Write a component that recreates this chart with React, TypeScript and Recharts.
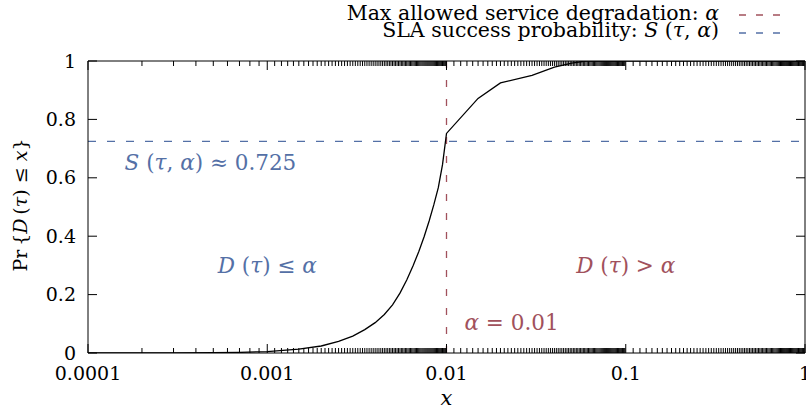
import React from "react"
import { LineChart, Line, XAxis, YAxis, ReferenceLine, ReferenceDot } from "recharts"

// measured CDF of service degradation D(tau)
const xs = [0.0001, 0.0003, 0.0005, 0.0007, 0.001, 0.0015, 0.002, 0.0025, 0.003, 0.0035, 0.004, 0.0045, 0.005, 0.0055, 0.006, 0.0065, 0.007, 0.0075, 0.008, 0.0085, 0.009, 0.0095, 0.01, 0.015, 0.02, 0.03, 0.04, 0.05, 0.06, 1]
const cdf = [0, 0, 0.001, 0.002, 0.005, 0.013, 0.024, 0.04, 0.058, 0.08, 0.104, 0.132, 0.165, 0.205, 0.25, 0.298, 0.347, 0.398, 0.452, 0.508, 0.566, 0.645, 0.752, 0.872, 0.925, 0.951, 0.979, 0.993, 1, 1]

const alpha = 0.01
const sla = 0.725

const xMajor = [0.0001, 0.001, 0.01, 0.1, 1]
const xLabels = ["0.0001", "0.001", "0.01", "0.1", "1"]
const yMajor = [0, 0.2, 0.4, 0.6, 0.8, 1]
const yLabels = ["0", "0.2", "0.4", "0.6", "0.8", "1"]

const RED = "#a1515c"
const BLUE = "#5470a6"
const FONT = "'DejaVu Serif', serif"

const points = xs.map((x, i) => ({ x, y: cdf[i] }))

// minor tics: 2..9 in the first decade, then steps of a tenth of the decade
const xMinor: number[] = []
for (let k = 2; k <= 9; k++) xMinor.push(k * 1e-4)
for (const d of [1e-3, 1e-2, 1e-1]) {
  for (let k = 11; k <= 99; k++) xMinor.push((k * d) / 10)
}
const xTicks = [...xMajor, ...xMinor]

const I = ({ children }: { children: React.ReactNode }) => <tspan fontStyle="italic">{children}</tspan>

function BottomTick(p: any) {
  const i = xMajor.indexOf(p.payload.value)
  const len = i >= 0 ? 9 : 5
  return (
    <g>
      <line x1={p.x} x2={p.x} y1={p.y} y2={p.y - len} stroke="#000" strokeWidth={1} />
      {i >= 0 && (
        <text x={p.x} y={p.y + 27} textAnchor="middle" fontSize={19} fill="#000" fontFamily={FONT}>
          {xLabels[i]}
        </text>
      )}
    </g>
  )
}

function TopTick(p: any) {
  const len = xMajor.includes(p.payload.value) ? 9 : 5
  return <line x1={p.x} x2={p.x} y1={p.y} y2={p.y + len} stroke="#000" strokeWidth={1} />
}

function LeftTick(p: any) {
  const i = yMajor.indexOf(p.payload.value)
  return (
    <g>
      <line x1={p.x} x2={p.x + 9} y1={p.y} y2={p.y} stroke="#000" strokeWidth={1} />
      <text x={p.x - 12} y={p.y} dy="0.35em" textAnchor="end" fontSize={19} fill="#000" fontFamily={FONT}>
        {yLabels[i]}
      </text>
    </g>
  )
}

function RightTick(p: any) {
  return <line x1={p.x} x2={p.x - 9} y1={p.y} y2={p.y} stroke="#000" strokeWidth={1} />
}

const notes = [
  { x: 0.00016, y: 0.653, anchor: "start", color: BLUE, body: <><I>S</I> (<I>τ</I>, <I>α</I>) ≈ 0.725</> },
  { x: 0.001, y: 0.3, anchor: "middle", color: BLUE, body: <><I>D</I> (<I>τ</I>) ≤ <I>α</I></> },
  { x: 0.1, y: 0.3, anchor: "middle", color: RED, body: <><I>D</I> (<I>τ</I>) &gt; <I>α</I></> },
  { x: 0.0126, y: 0.103, anchor: "start", color: RED, body: <><I>α</I> = 0.01</> },
]

const axisLine = { stroke: "#000", strokeWidth: 1 }

export default function App() {
  return (
    <div style={{ position: "absolute", left: 0, top: 0 }}>
      <LineChart width={806} height={415} data={points} margin={{ top: 60, right: 0, bottom: 0, left: 0 }} style={{ fontFamily: FONT }}>
        <XAxis
          xAxisId="b"
          dataKey="x"
          type="number"
          scale="log"
          domain={[0.0001, 1]}
          allowDataOverflow
          ticks={xTicks}
          interval={0}
          tickSize={0}
          tickMargin={0}
          tickLine={false}
          axisLine={axisLine}
          height={62}
          tick={BottomTick}
          label={{
            content: (lp: any) => {
              const vb = lp.viewBox
              return (
                <text x={vb.x + vb.width / 2} y={vb.y + 52} textAnchor="middle" fontSize={21} fontStyle="italic" fontFamily={FONT}>
                  x
                </text>
              )
            },
          }}
        />
        <XAxis
          xAxisId="t"
          orientation="top"
          dataKey="x"
          type="number"
          scale="log"
          domain={[0.0001, 1]}
          allowDataOverflow
          ticks={xTicks}
          interval={0}
          tickSize={0}
          tickMargin={0}
          tickLine={false}
          axisLine={axisLine}
          height={1}
          tick={TopTick}
        />
        <YAxis
          yAxisId="l"
          type="number"
          domain={[0, 1]}
          allowDataOverflow
          ticks={yMajor}
          interval={0}
          tickSize={0}
          tickMargin={0}
          tickLine={false}
          axisLine={axisLine}
          width={88}
          tick={LeftTick}
          label={{
            content: (lp: any) => {
              const vb = lp.viewBox
              const cx = 20
              const cy = vb.y + vb.height / 2 - 2
              return (
                <text x={cx} y={cy} transform={`rotate(-90 ${cx} ${cy})`} textAnchor="middle" dominantBaseline="central" fontSize={19} fontFamily={FONT}>
                  Pr{"\u2009{"}<I>D</I>{"\u2009("}<I>τ</I>) ≤ <I>x</I>{"}"}
                </text>
              )
            },
          }}
        />
        <YAxis
          yAxisId="r"
          orientation="right"
          type="number"
          domain={[0, 1]}
          allowDataOverflow
          ticks={yMajor}
          interval={0}
          tickSize={0}
          tickMargin={0}
          tickLine={false}
          axisLine={axisLine}
          width={1}
          tick={RightTick}
        />
        <ReferenceLine xAxisId="b" yAxisId="l" x={alpha} stroke={RED} strokeWidth={1.3} strokeDasharray="7 12" />
        <ReferenceLine xAxisId="b" yAxisId="l" y={sla} stroke={BLUE} strokeWidth={1.3} strokeDasharray="8 11" />
        {notes.map((n, i) => (
          <ReferenceDot
            key={i}
            xAxisId="b"
            yAxisId="l"
            x={n.x}
            y={n.y}
            r={0}
            shape={(p: any) => (
              <text x={p.cx} y={p.cy} dy="0.35em" textAnchor={n.anchor} fill={n.color} fontSize={21.5} fontFamily={FONT}>
                {n.body}
              </text>
            )}
          />
        ))}
        {/* same curve bound to the mirrored axes so they get drawn */}
        <Line
          xAxisId="t"
          yAxisId="r"
          dataKey="y"
          type="linear"
          stroke="none"
          dot={false}
          legendType="none"
          isAnimationActive={false}
        />
        <Line
          xAxisId="b"
          yAxisId="l"
          dataKey="y"
          type="linear"
          stroke="#000"
          strokeWidth={1.3}
          dot={false}
          isAnimationActive={false}
        />
        <g fontFamily={FONT} fontSize={20.5}>
          <text x={719} y={20} textAnchor="end" fill="#000">
            Max allowed service degradation: <I>α</I>
          </text>
          <line x1={739} x2={784} y1={15} y2={15} stroke={RED} strokeWidth={1.3} strokeDasharray="7 10" />
          <text x={719} y={37} textAnchor="end" fill="#000">
            SLA success probability: <I>S</I> (<I>τ</I>, <I>α</I>)
          </text>
          <line x1={739} x2={784} y1={33} y2={33} stroke={BLUE} strokeWidth={1.3} strokeDasharray="7 10" />
        </g>
      </LineChart>
    </div>
  )
}
